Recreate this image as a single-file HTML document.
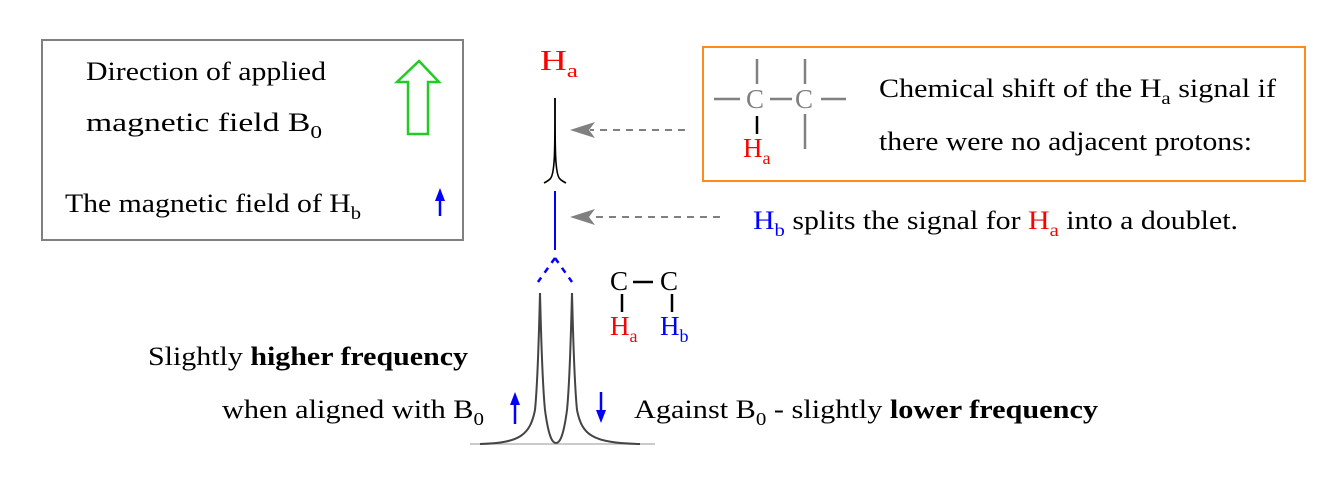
<!DOCTYPE html>
<html><head><meta charset="utf-8"><style>
html,body{margin:0;padding:0;background:#fff;}
svg text{font-family:"Liberation Serif","Times New Roman",serif;}
</style></head><body>
<svg width="1330" height="494" viewBox="0 0 1330 494" xmlns="http://www.w3.org/2000/svg" font-family="Liberation Serif, serif">
<!-- left box -->
<rect x="42" y="40" width="421" height="200" fill="none" stroke="#808080" stroke-width="2"/>
<text x="86" y="80" font-size="26" textLength="240" lengthAdjust="spacingAndGlyphs">Direction of applied</text>
<text x="86" y="131" font-size="26" textLength="236" lengthAdjust="spacingAndGlyphs">magnetic field B<tspan font-size="18" dy="7">0</tspan></text>
<path d="M419,61 L439,82 L428,82 L428,134 L408,134 L408,82 L397,82 Z" fill="none" stroke="#22cc22" stroke-width="2.5"/>
<text x="65" y="212" font-size="26" textLength="296" lengthAdjust="spacingAndGlyphs">The magnetic field of H<tspan font-size="18" dy="7">b</tspan></text>
<line x1="440" y1="216" x2="440" y2="198" stroke="#0000ff" stroke-width="2.5"/>
<path d="M440,188 L445,201 L435,201 Z" fill="#0000ff"/>

<!-- Ha top -->
<text x="540" y="70" font-size="28" fill="#ff0000" textLength="38" lengthAdjust="spacingAndGlyphs">H<tspan font-size="19" dy="7">a</tspan></text>
<path d="M555,98 C555,150 555,175 550,179 C548,181 546,182 544,183" fill="none" stroke="#000" stroke-width="1.6"/>
<path d="M555,98 C555,150 555,175 560,179 C562,181 564,182 566,183" fill="none" stroke="#000" stroke-width="1.6"/>
<line x1="555" y1="191" x2="555" y2="250" stroke="#0000ff" stroke-width="2"/>
<path d="M555,258 L538,282 M555,258 L572,282" stroke="#0000ff" stroke-width="2.5" stroke-dasharray="6,6" fill="none"/>

<!-- doublet -->
<line x1="470" y1="444" x2="655" y2="444" stroke="#aaa" stroke-width="1.3"/>
<path d="M480,444 C520,443 530,435 535,410 C538,380 539,330 540,293 C541,330 542,380 545,410 C549,440 553,443 556,443 C559,443 563,440 567,410 C570,380 571,330 572,293 C573,330 574,380 577,410 C582,435 592,443 640,444" fill="none" stroke="#444" stroke-width="2"/>

<!-- dashed arrows -->
<line x1="685" y1="130" x2="590" y2="130" stroke="#808080" stroke-width="2" stroke-dasharray="7,6"/>
<path d="M570,130 L595,122 L589,130 L595,138 Z" fill="#808080"/>
<line x1="720" y1="217" x2="590" y2="217" stroke="#808080" stroke-width="2" stroke-dasharray="7,6"/>
<path d="M570,217 L595,209 L589,217 L595,225 Z" fill="#808080"/>

<!-- orange box -->
<rect x="703" y="47" width="602" height="134" fill="none" stroke="#ff8c1a" stroke-width="2"/>
<g stroke="#808080" stroke-width="2.5">
<line x1="714" y1="99" x2="740" y2="99"/>
<line x1="770" y1="99" x2="792" y2="99"/>
<line x1="821" y1="99" x2="846" y2="99"/>
<line x1="757" y1="59" x2="757" y2="84"/>
<line x1="805" y1="59" x2="805" y2="84"/>
<line x1="805" y1="114" x2="805" y2="149"/>
</g>
<line x1="757" y1="116" x2="757" y2="134" stroke="#000" stroke-width="2.5"/>
<text x="746" y="108" font-size="27" fill="#808080">C</text>
<text x="795" y="108" font-size="27" fill="#808080">C</text>
<text x="743" y="157" font-size="27" fill="#ff0000">H<tspan font-size="18" dy="7">a</tspan></text>
<text x="879" y="97" font-size="26" textLength="397" lengthAdjust="spacingAndGlyphs">Chemical shift of the H<tspan font-size="18" dy="7">a</tspan><tspan dy="-7"> signal if</tspan></text>
<text x="879" y="150" font-size="26" textLength="373" lengthAdjust="spacingAndGlyphs">there were no adjacent protons:</text>

<text x="753" y="229" font-size="26" textLength="485" lengthAdjust="spacingAndGlyphs"><tspan fill="#0000ff">H</tspan><tspan fill="#0000ff" font-size="18" dy="7">b</tspan><tspan dy="-7"> splits the signal for </tspan><tspan fill="#ff0000">H</tspan><tspan fill="#ff0000" font-size="18" dy="7">a</tspan><tspan dy="-7"> into a doublet.</tspan></text>

<!-- C-C Ha Hb -->
<text x="610" y="290" font-size="27">C</text>
<text x="660" y="290" font-size="27">C</text>
<line x1="633" y1="282" x2="653" y2="282" stroke="#000" stroke-width="2.5"/>
<line x1="622" y1="294" x2="622" y2="312" stroke="#000" stroke-width="2.5"/>
<line x1="672" y1="294" x2="672" y2="312" stroke="#000" stroke-width="2.5"/>
<text x="610" y="335" font-size="27" fill="#ff0000">H<tspan font-size="18" dy="7">a</tspan></text>
<text x="660" y="335" font-size="27" fill="#0000ff">H<tspan font-size="18" dy="7">b</tspan></text>

<!-- bottom text -->
<text x="148" y="365" font-size="26" textLength="320" lengthAdjust="spacingAndGlyphs">Slightly <tspan font-weight="bold">higher frequency</tspan></text>
<text x="222" y="418" font-size="26" textLength="262" lengthAdjust="spacingAndGlyphs">when aligned with B<tspan font-size="18" dy="7">0</tspan></text>
<line x1="515" y1="424" x2="515" y2="402" stroke="#0000ff" stroke-width="2.5"/>
<path d="M515,392 L520,405 L510,405 Z" fill="#0000ff"/>
<line x1="601" y1="392" x2="601" y2="413" stroke="#0000ff" stroke-width="2.5"/>
<path d="M601,423 L606,410 L596,410 Z" fill="#0000ff"/>
<text x="634" y="418" font-size="26" textLength="464" lengthAdjust="spacingAndGlyphs">Against B<tspan font-size="18" dy="7">0</tspan><tspan dy="-7">  - slightly </tspan><tspan font-weight="bold">lower frequency</tspan></text>
</svg>
</body></html>
